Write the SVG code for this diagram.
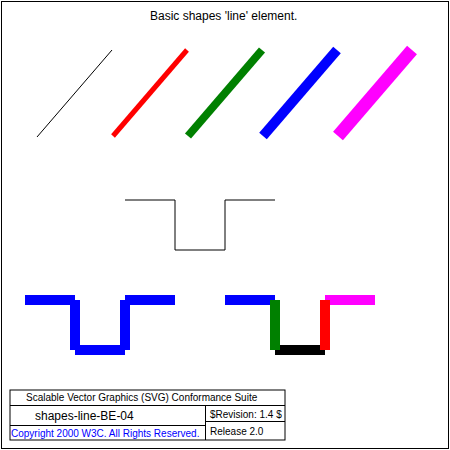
<svg xmlns="http://www.w3.org/2000/svg" width="450" height="450" viewBox="0 0 450 450">
<style>
text{font-family:"Liberation Sans",Arial,sans-serif}
.n{fill:none;stroke:#000}
</style>
<rect x="0" y="0" width="450" height="450" fill="#fff"/>
<rect class="n" x="1.5" y="1.5" width="447" height="447"/>
<text x="150" y="20" font-size="12">Basic shapes 'line' element.</text>
<g id="lines" stroke-linecap="butt">
<line x1="37" y1="137" x2="112" y2="50" stroke="#000" stroke-width="1"/>
<line x1="113" y1="136" x2="187" y2="50" stroke="#f00" stroke-width="5"/>
<line x1="188" y1="136" x2="262" y2="50" stroke="#008000" stroke-width="8"/>
<line x1="263" y1="136" x2="337" y2="50" stroke="#00f" stroke-width="10"/>
<line x1="338" y1="136" x2="412" y2="50" stroke="#f0f" stroke-width="13"/>
</g>
<g id="polyline">
<polyline class="n" points="125,200 175,200 175,250 225,250 225,200 275,200"/>
</g>
<g id="blue-segments" stroke="#00f" stroke-width="10">
<line x1="25" y1="300" x2="75" y2="300"/>
<line x1="75" y1="300" x2="75" y2="350"/>
<line x1="75" y1="350" x2="125" y2="350"/>
<line x1="125" y1="350" x2="125" y2="300"/>
<line x1="125" y1="300" x2="175" y2="300"/>
</g>
<g id="color-segments" stroke-width="10">
<line x1="225" y1="300" x2="275" y2="300" stroke="#00f"/>
<line x1="275" y1="350" x2="325" y2="350" stroke="#000"/>
<line x1="325" y1="300" x2="375" y2="300" stroke="#f0f"/>
<line x1="275" y1="300" x2="275" y2="350" stroke="#008000"/>
<line x1="325" y1="350" x2="325" y2="300" stroke="#f00"/>
</g>
<g id="test-legend" font-size="10">
<rect class="n" x="10" y="390" width="275" height="50"/>
<path class="n" d="M10 405.5H285M10 425.5H205M205 421.5H285M205.5 405V440"/>
<text x="26" y="401">Scalable Vector Graphics (SVG) Conformance Suite</text>
<text x="35" y="420" font-size="12">shapes-line-BE-04</text>
<text x="11" y="437" fill="#00f">Copyright 2000 W3C. All Rights Reserved.</text>
<text x="210" y="418">$Revision: 1.4 $</text>
<text x="210" y="435">Release 2.0</text>
</g>
</svg>
